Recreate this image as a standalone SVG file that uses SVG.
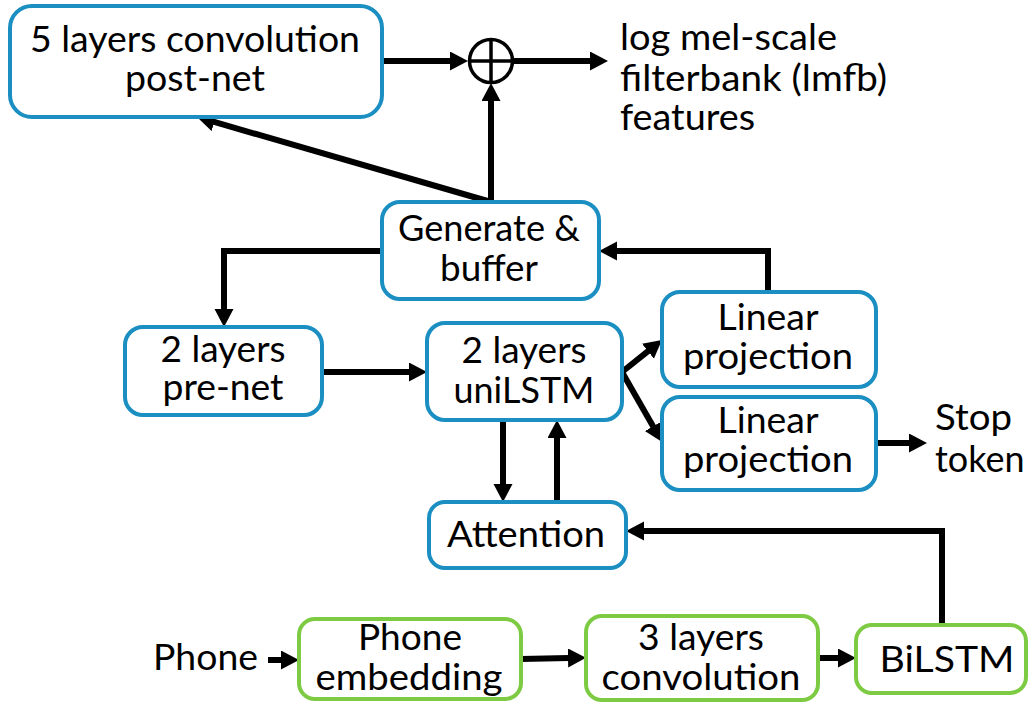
<svg xmlns="http://www.w3.org/2000/svg" width="1033" height="703" viewBox="0 0 1033 703">
  <style>
    .box { fill: #ffffff; stroke: #1b8ec2; stroke-width: 4; }
    .enc { fill: #ffffff; stroke: #7dcb42; stroke-width: 4; }
    .lbl { font-family: Lato, "Liberation Sans", sans-serif; font-size: 36px; fill: #000000; text-anchor: middle; }
    .free { font-family: Lato, "Liberation Sans", sans-serif; font-size: 36px; fill: #000000; text-anchor: start; }
    .wire { fill: none; stroke: #000000; stroke-width: 6; stroke-linejoin: miter; marker-end: url(#head); }
  </style>
  <defs>
    <marker id="head" markerUnits="userSpaceOnUse" markerWidth="20" markerHeight="20" refX="1" refY="9.5" orient="auto">
      <path d="M0,0 L18,9.5 L0,19 Z" fill="#000000"/>
    </marker>
  </defs>
  <rect x="0" y="0" width="1033" height="703" fill="#ffffff"/>

  <!-- connectors -->
  <g id="connectors">
    <path class="wire" d="M382,61 L451,61"/>
    <path class="wire" d="M514,61 L591,61"/>
    <path class="wire" d="M491,202 L491,100"/>
    <path class="wire" d="M491,202 L213.3,121.7"/>
    <path class="wire" d="M382,251 L224,251 L224,310"/>
    <path class="wire" d="M768,293 L768,251 L616,251"/>
    <path class="wire" d="M322,372 L410,372"/>
    <path class="wire" d="M622,372 L648.7,350.6"/>
    <path class="wire" d="M622,372 L653.6,427.2"/>
    <path class="wire" d="M503,420 L503,485"/>
    <path class="wire" d="M557,502 L557,437"/>
    <path class="wire" d="M876,443 L910,443"/>
    <path class="wire" d="M942,625 L942,531 L643,531"/>
    <path class="wire" d="M268,660 L282,660"/>
    <path class="wire" d="M521,659 L569,658"/>
    <path class="wire" d="M818,658 L839,658"/>
  </g>

  <!-- sum junction -->
  <g id="sum">
    <circle cx="491" cy="61" r="21.5" fill="#ffffff" stroke="#000000" stroke-width="3.5"/>
    <line x1="469.5" y1="61" x2="512.5" y2="61" stroke="#000000" stroke-width="3.5"/>
    <line x1="491" y1="39.5" x2="491" y2="82.5" stroke="#000000" stroke-width="3.5"/>
  </g>

  <g id="postnet">
    <rect class="box" x="10" y="6" width="372" height="111" rx="22"/>
    <text class="lbl" x="195" y="52" textLength="330" lengthAdjust="spacingAndGlyphs">5 layers convolution</text>
    <text class="lbl" x="195" y="91" textLength="140" lengthAdjust="spacingAndGlyphs">post-net</text>
  </g>

  <g id="output">
    <text class="free" x="620" y="50" textLength="217" lengthAdjust="spacingAndGlyphs">log mel-scale</text>
    <text class="free" x="620" y="91" textLength="267" lengthAdjust="spacingAndGlyphs">filterbank (lmfb)</text>
    <text class="free" x="620" y="130" textLength="135" lengthAdjust="spacingAndGlyphs">features</text>
  </g>

  <g id="generate">
    <rect class="box" x="382" y="202" width="217" height="97" rx="18"/>
    <text class="lbl" x="489" y="241" textLength="182" lengthAdjust="spacingAndGlyphs">Generate &amp;</text>
    <text class="lbl" x="489" y="281" textLength="98" lengthAdjust="spacingAndGlyphs">buffer</text>
  </g>

  <g id="prenet">
    <rect class="box" x="125" y="327" width="197" height="88" rx="18"/>
    <text class="lbl" x="223" y="362" textLength="125" lengthAdjust="spacingAndGlyphs">2 layers</text>
    <text class="lbl" x="223" y="400" textLength="121" lengthAdjust="spacingAndGlyphs">pre-net</text>
  </g>

  <g id="unilstm">
    <rect class="box" x="427" y="323" width="195" height="97" rx="18"/>
    <text class="lbl" x="524" y="363" textLength="125" lengthAdjust="spacingAndGlyphs">2 layers</text>
    <text class="lbl" x="524" y="403" textLength="141" lengthAdjust="spacingAndGlyphs">uniLSTM</text>
  </g>

  <g id="linear1">
    <rect class="box" x="662" y="292" width="214" height="95" rx="18"/>
    <text class="lbl" x="768" y="330" textLength="101" lengthAdjust="spacingAndGlyphs">Linear</text>
    <text class="lbl" x="768" y="369" textLength="170" lengthAdjust="spacingAndGlyphs">projection</text>
  </g>

  <g id="linear2">
    <rect class="box" x="662" y="397" width="214" height="93" rx="18"/>
    <text class="lbl" x="768" y="433" textLength="101" lengthAdjust="spacingAndGlyphs">Linear</text>
    <text class="lbl" x="768" y="472" textLength="170" lengthAdjust="spacingAndGlyphs">projection</text>
  </g>

  <g id="stop">
    <text class="free" x="935" y="430" textLength="77" lengthAdjust="spacingAndGlyphs">Stop</text>
    <text class="free" x="935" y="472">token</text>
  </g>

  <g id="attention">
    <rect class="box" x="429" y="502" width="197" height="66" rx="16"/>
    <text class="lbl" x="526" y="547" textLength="158" lengthAdjust="spacingAndGlyphs">Attention</text>
  </g>

  <g id="phone">
    <text class="free" x="153" y="670" textLength="105" lengthAdjust="spacingAndGlyphs">Phone</text>
  </g>

  <g id="embedding">
    <rect class="enc" x="299" y="619" width="222" height="80" rx="16"/>
    <text class="lbl" x="410" y="650" textLength="104" lengthAdjust="spacingAndGlyphs">Phone</text>
    <text class="lbl" x="409" y="690" textLength="187" lengthAdjust="spacingAndGlyphs">embedding</text>
  </g>

  <g id="convolution">
    <rect class="enc" x="586" y="616" width="232" height="84" rx="16"/>
    <text class="lbl" x="701" y="650" textLength="126" lengthAdjust="spacingAndGlyphs">3 layers</text>
    <text class="lbl" x="701" y="690" textLength="199" lengthAdjust="spacingAndGlyphs">convolution</text>
  </g>

  <g id="bilstm">
    <rect class="enc" x="856" y="625" width="170" height="68" rx="16"/>
    <text class="lbl" x="947" y="672" textLength="135" lengthAdjust="spacingAndGlyphs">BiLSTM</text>
  </g>
</svg>
